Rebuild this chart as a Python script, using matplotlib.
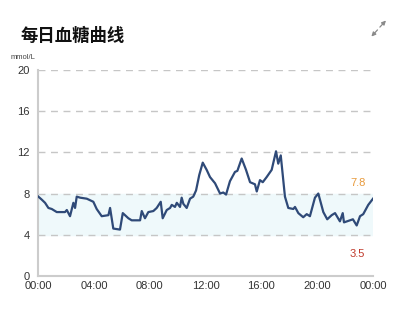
import numpy as np
import matplotlib.pyplot as plt
from matplotlib.patches import FancyArrowPatch

plt.rcParams['font.family'] = ['Liberation Sans', 'Noto Sans CJK SC', 'DejaVu Sans']

# glucose readings (hour of day, mmol/L)
hours = [0.02, 0.27, 0.5, 0.74, 0.98, 1.34, 1.93, 2.06, 2.29, 2.53, 2.65, 2.77,
         3.01, 3.49, 3.96, 4.2, 4.56, 5.04, 5.16, 5.39, 5.87, 6.07, 6.47, 6.71,
         7.31, 7.43, 7.66, 7.9, 8.26, 8.5, 8.79, 8.93, 9.22, 9.46, 9.58, 9.81,
         9.94, 10.17, 10.29, 10.41, 10.65, 10.89, 11.12, 11.32, 11.55, 11.8,
         12.08, 12.32, 12.68, 13.04, 13.27, 13.47, 13.75, 14.11, 14.28, 14.59,
         14.9, 15.19, 15.54, 15.67, 15.9, 16.1, 16.38, 16.74, 17.05, 17.21,
         17.39, 17.69, 17.93, 18.29, 18.41, 18.65, 19.0, 19.25, 19.48, 19.84,
         20.08, 20.2, 20.44, 20.72, 21.04, 21.28, 21.63, 21.83, 21.92, 22.35,
         22.56, 22.83, 23.07, 23.3, 23.66, 24.0]
glucose = [7.7, 7.4, 7.1, 6.6, 6.5, 6.2, 6.2, 6.4, 5.8, 7.1, 6.6, 7.7,
           7.6, 7.5, 7.2, 6.5, 5.8, 5.9, 6.6, 4.6, 4.5, 6.1, 5.6, 5.4,
           5.4, 6.3, 5.6, 6.2, 6.3, 6.6, 7.2, 5.6, 6.4, 6.6, 6.9, 6.7,
           7.1, 6.7, 7.6, 7.0, 6.6, 7.5, 7.7, 8.3, 9.8, 11.0,
           10.3, 9.6, 9.0, 8.0, 8.1, 7.9, 9.2, 10.1, 10.2, 11.4,
           10.3, 9.1, 8.9, 8.2, 9.3, 9.1, 9.6, 10.3, 12.1, 10.9,
           11.7, 7.7, 6.6, 6.5, 6.7, 6.1, 5.7, 6.0, 5.8, 7.6,
           8.0, 7.4, 6.2, 5.5, 5.9, 6.1, 5.3, 6.1, 5.2, 5.4,
           5.5, 4.9, 5.8, 6.0, 6.9, 7.5]

band = (4.0, 8.0)
high_label, low_label = '7.8', '3.5'
x_ticks = [0, 4, 8, 12, 16, 20, 24]
x_labels = ['00:00', '04:00', '08:00', '12:00', '16:00', '20:00', '00:00']
y_ticks = [0, 4, 8, 12, 16, 20]

fig = plt.figure(figsize=(4.05, 3.15), dpi=100)
fig.patch.set_facecolor('white')
ax = fig.add_axes([0.094, 0.124, 0.827, 0.654])

ax.axhspan(band[0], band[1], color='#eff9fb', zorder=0)
for v in y_ticks[1:]:
    ax.axhline(v, color='#c6c6c6', lw=1.0, ls=(0, (5, 4)), zorder=1)
ax.plot(hours, glucose, color='#2f4a78', lw=1.6, zorder=3)

ax.set_xlim(0, 24)
ax.set_ylim(0, 20)
ax.set_xticks(x_ticks)
ax.set_xticklabels(x_labels)
ax.set_yticks(y_ticks)
ax.tick_params(length=0, labelsize=8, colors='#333333')
ax.tick_params(axis='y', pad=6)
ax.tick_params(axis='x', pad=4)
for s in ['top', 'right']:
    ax.spines[s].set_visible(False)
for s in ['left', 'bottom']:
    ax.spines[s].set_color('#cccccc')
    ax.spines[s].set_linewidth(1.5)

ax.text(22.9, 9.0, high_label, color='#e89a3c', fontsize=8, ha='center', va='center')
ax.text(22.9, 2.1, low_label, color='#c0392b', fontsize=8, ha='center', va='center')

fig.text(0.05, 0.885, '每日血糖曲线', fontsize=12.5, fontweight='bold',
         family=['Noto Sans CJK SC'], color='#111111', va='center')
fig.text(0.025, 0.818, 'mmol/L', fontsize=5.5, color='#444444', va='center')

# expand icon
ic = dict(arrowstyle='-|>', color='#8a8a8a', lw=0.9, mutation_scale=6,
          shrinkA=0, shrinkB=0, transform=fig.transFigure)
fig.add_artist(FancyArrowPatch((0.938, 0.914), (0.953, 0.935), **ic))
fig.add_artist(FancyArrowPatch((0.932, 0.905), (0.917, 0.884), **ic))

fig.savefig('out.png', dpi=100)
